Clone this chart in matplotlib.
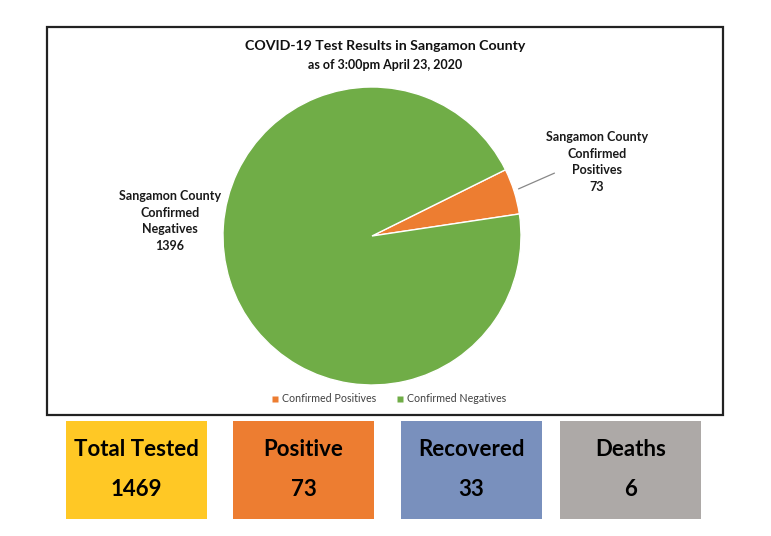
import matplotlib
matplotlib.use("Agg")
import matplotlib.pyplot as plt
from matplotlib.patches import Rectangle
from matplotlib.lines import Line2D

W, H = 771, 536
FONT = ["Lato", "DejaVu Sans"]

# ---- data ----
slice_labels = ["Confirmed Positives", "Confirmed Negatives"]
slice_values = [73, 1396]
slice_colors = ["#ED7D31", "#70AD47"]
callout_names = ["Sangamon County\nConfirmed\nPositives", "Sangamon County\nConfirmed\nNegatives"]

stat_names = ["Total Tested", "Positive", "Recovered", "Deaths"]
stat_values = [1469, 73, 33, 6]
stat_colors = ["#FFC825", "#ED7D31", "#7990BD", "#ADA9A7"]

title = "COVID-19 Test Results in Sangamon County"
subtitle = "as of 3:00pm April 23, 2020"

plt.rcParams["font.family"] = FONT
fig = plt.figure(figsize=(W / 100, H / 100), dpi=100)


def fx(px):
    return px / W


def fy(py):
    return 1 - py / H


# chart frame
fig.patches.append(Rectangle((fx(47), fy(415)), fx(723) - fx(47), fy(27) - fy(415),
                             transform=fig.transFigure, fill=False,
                             edgecolor="#222222", linewidth=1.6, zorder=0))

fig.text(fx(385), fy(46), title, ha="center", va="center", fontsize=10.2,
         fontweight="bold", color="#111111")
fig.text(fx(385), fy(65), subtitle, ha="center", va="center", fontsize=9,
         fontweight="bold", color="#111111")

# pie axes: center (372,236), radius 149 px
cx, cy, r = 372, 236, 149
ax = fig.add_axes([fx(cx - r), fy(cy + r), (2 * r) / W, (2 * r) / H])
wedges, _ = ax.pie(slice_values, colors=slice_colors, startangle=26.4,
                   counterclock=False, radius=1,
                   wedgeprops=dict(linewidth=1.0, edgecolor="white"))
ax.set_xlim(-1, 1)
ax.set_ylim(-1, 1)
ax.set_aspect("equal")
ax.axis("off")


def px2d(px, py):
    return ((px - cx) / r, (cy - py) / r)


pos_txt = f"{callout_names[0]}\n{slice_values[0]}"
neg_txt = f"{callout_names[1]}\n{slice_values[1]}"
ax.text(*px2d(597, 162), pos_txt, ha="center", va="center", fontsize=9,
        fontweight="bold", color="#1a1a1a", linespacing=1.45, clip_on=False)
ax.text(*px2d(170, 221), neg_txt, ha="center", va="center", fontsize=9,
        fontweight="bold", color="#1a1a1a", linespacing=1.45, clip_on=False)
ax.annotate("", xy=px2d(516, 190), xytext=px2d(557, 172),
            arrowprops=dict(arrowstyle="-", color="#888888", lw=0.9),
            annotation_clip=False)

handles = [Line2D([], [], marker="s", linestyle="none", markersize=4.5,
                  markerfacecolor=c, markeredgecolor="none") for c in slice_colors]
leg = fig.legend(handles, slice_labels, loc="center", bbox_to_anchor=(fx(389), fy(399)),
                 ncol=2, frameon=False, fontsize=7.7, handlelength=0.5,
                 columnspacing=2.0, handletextpad=0.4)
for t in leg.get_texts():
    t.set_color("#404040")

# stat boxes
box_left = [66, 233, 401, 560]
box_w = 141
top, bot = 421, 519
for x0, name, val, col in zip(box_left, stat_names, stat_values, stat_colors):
    fig.patches.append(Rectangle((fx(x0), fy(bot)), box_w / W, (bot - top) / H,
                                 transform=fig.transFigure, facecolor=col,
                                 edgecolor="none"))
    fig.text(fx(x0 + box_w / 2), fy(450), name, ha="center", va="center",
             fontsize=16, fontweight="bold", color="black")
    fig.text(fx(x0 + box_w / 2), fy(489), str(val), ha="center", va="center",
             fontsize=16, fontweight="bold", color="black")

fig.savefig("out.png", dpi=100)
